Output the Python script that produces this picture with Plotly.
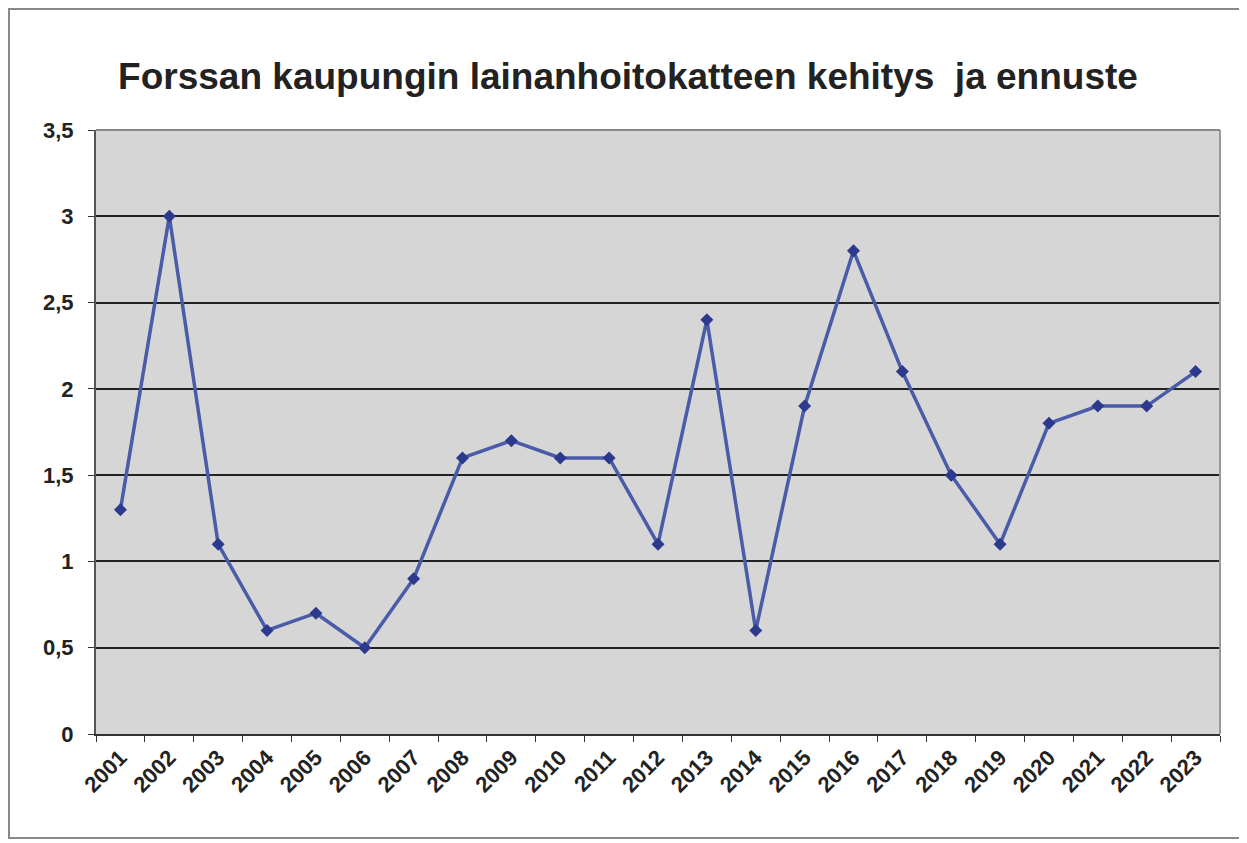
import plotly.graph_objects as go

years = [str(y) for y in range(2001, 2024)]
values = [1.3, 3.0, 1.1, 0.6, 0.7, 0.5, 0.9, 1.6, 1.7, 1.6, 1.6, 1.1, 2.4, 0.6, 1.9, 2.8, 2.1, 1.5, 1.1, 1.8, 1.9, 1.9, 2.1]
y_ticks = [0, 0.5, 1, 1.5, 2, 2.5, 3, 3.5]
y_tick_labels = ["0", "0,5", "1", "1,5", "2", "2,5", "3", "3,5"]
title = "Forssan kaupungin lainanhoitokatteen kehitys  ja ennuste"

# page offset (browser body margin)
OFF = 8
W, H = 1247 - OFF, 843 - OFF
L, R, T, B = 96 - OFF, W - (1220 - OFF), 130 - OFF, H - (734 - OFF)
pw, ph = W - L - R, H - T - B

def px(x):
    return (x - OFF - L) / pw

def py(y):
    return (H - B - (y - OFF)) / ph

fig = go.Figure()
fig.add_trace(go.Scatter(
    x=years, y=values, mode="lines+markers",
    line=dict(color="#4a5ba8", width=3.5),
    marker=dict(symbol="diamond", size=10, color="#2b3a8c"),
    showlegend=False,
))

fig.update_layout(
    width=W, height=H,
    margin=dict(l=L, r=R, t=T, b=B, pad=0),
    paper_bgcolor="white",
    plot_bgcolor="#d6d6d6",
    title=dict(text=title, x=px(628), xref="paper", xanchor="center",
               y=1 - (76 - OFF) / H, yanchor="middle",
               font=dict(family="Liberation Sans, Arial", size=37, color="#222222", weight="bold")),
    font=dict(family="Liberation Sans, Arial", color="#222222"),
)
fig.update_xaxes(
    type="category", range=[-0.5, len(years) - 0.5],
    tickangle=-45, tickfont=dict(size=22, weight="bold"),
    ticks="outside", ticklen=6, tickcolor="#333333", tickson="boundaries",
    showline=True, linecolor="#333333", linewidth=2,
    showgrid=False, mirror=False,
)
fig.update_yaxes(
    range=[0, 3.5], tickvals=y_ticks, ticktext=y_tick_labels,
    tickfont=dict(size=22, weight="bold"),
    ticks="outside", ticklen=6, tickcolor="#333333", ticklabelstandoff=10,
    showline=True, linecolor="#555555", linewidth=2,
    gridcolor="#222222", gridwidth=1.5, zeroline=False,
)
fig.add_shape(type="line", xref="paper", yref="paper",
              x0=1, x1=1, y0=0, y1=1,
              line=dict(color="#999999", width=2))
fig.add_shape(type="line", xref="paper", yref="paper",
              x0=0, x1=1, y0=1, y1=1,
              line=dict(color="#888888", width=2))
fig.add_shape(type="rect", xref="paper", yref="paper",
              x0=px(OFF + 1), x1=px(1244), y0=py(838), y1=py(OFF + 1),
              line=dict(color="#888888", width=2), layer="below")

fig.write_html("out.html")
